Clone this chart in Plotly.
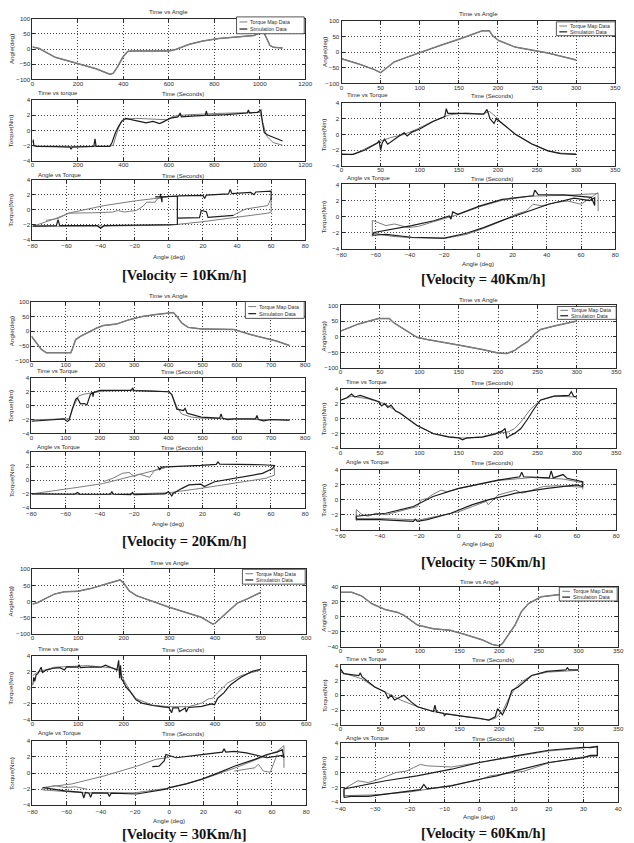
import plotly.graph_objects as go

W, H = 634, 843

# ======================= DATA =======================
# ---- 10 Km/h ----
t10_angle = [0, 30, 100, 200, 280, 340, 355, 375, 398, 420, 460, 600, 630, 690, 750, 820, 900, 975, 1015, 1030, 1045, 1060, 1100]
angle10 = [7, 2, -27, -47, -65, -83, -80, -58, -26, -7, -6, -6, -1, 16, 27, 35, 40, 45, 60, 35, 12, 6, 4]
t10_map = [0, 100, 200, 340, 355, 376, 391, 412, 455, 530, 600, 614, 671, 815, 973, 1002, 1016, 1030, 1059, 1100]
tq10_map = [-2.05, -2.1, -2.1, -2.1, -1.95, 0.1, 1.2, 1.5, 1.6, 1.5, 1.4, 1.85, 2.05, 2.25, 2.45, 2.4, 0.75, -0.75, -1.6, -1.95]
t10_sim = [0, 3, 6, 20, 100, 165, 170, 175, 270, 275, 280, 340, 350, 365, 380, 395, 410, 440, 470, 500, 530, 560, 580, 595, 605, 620, 640, 650, 655, 700, 760, 765, 770, 850, 900, 945, 950, 955, 990, 1005, 1012, 1020, 1035, 1060, 1080, 1100]
tq10_sim = [-1.6, -1.2, -2.0, -2.1, -2.15, -2.2, -2.5, -2.2, -2.1, -1.1, -2.1, -2.1, -1.6, -0.3, 0.6, 1.3, 1.6, 1.4, 1.1, 1.0, 1.2, 0.9, 1.2, 1.5, 1.6, 1.7, 1.8, 2.3, 1.8, 1.9, 2.0, 2.6, 2.0, 2.1, 2.2, 2.3, 2.7, 2.3, 2.4, 2.7, 1.0, -0.3, -0.6, -0.9, -1.2, -1.4]
map10_a = [5, 0, -4, -19, -38, -58, -67, -80, -40, 0, 19, 38, 58, 60, 60, 58, 50, 45, 38, None, -72, -65, -60, -59, -45, -33, -30, -26, -23, -19, -15, -13, -8, -7, -4]
map10_t = [1.8, 1.75, 1.6, 1.2, 0.55, -0.4, -1.2, -2.2, -2.15, -2.05, -1.6, -1.05, -0.45, -0.3, 1.5, 0.55, 0.3, 0.1, -0.7, None, -1.4, -1.15, -0.6, -0.45, -0.4, -0.3, -0.1, -0.3, -0.2, -0.1, 0.5, 1.0, 1.0, 1.4, 1.7]
sim10_a = [-80, -66, -65, -64, -42, -40, -38, -10, 0, 5, 5, 6, 20, 21, 22, 35, 36, 37, 48, 50, 51, 60, 60, None, 5, 18, 19, 22, 23, 38, None, -8, -5, -5, -4, -4, 5]
sim10_t = [-2.15, -2.1, -1.3, -2.1, -2.1, -2.45, -2.1, -2.05, -2.0, -1.95, 1.8, 1.85, 1.9, 1.5, 1.95, 2.1, 2.7, 2.15, 2.3, 2.0, 2.35, 2.45, 1.3, None, -1.1, -1.05, -0.1, -0.25, -1.0, -0.75, None, 1.7, 1.7, 2.1, 1.0, 1.7, 1.8]

# ---- 40 Km/h ----
t40_angle = [0, 21, 42, 50, 54, 67, 84, 101, 126, 151, 172, 180, 189, 193, 201, 222, 264, 300]
angle40 = [-21, -37, -56, -66, -58, -32, -16, 0, 21, 42, 60, 68, 68, 53, 37, 16, -3, -25]
t40_map = [0, 13, 25, 38, 50, 63, 80, 96, 117, 138, 159, 180, 189, 197, 205, 222, 243, 264, 280, 300]
tq40_map = [-2.5, -2.6, -2.1, -1.5, -0.85, -0.4, 0.0, 0.65, 1.7, 2.5, 2.75, 2.6, 2.95, 2.3, 1.5, 0.0, -1.25, -2.1, -2.4, -2.5]
t40_sim = [0, 15, 30, 40, 46, 48, 50, 52, 55, 59, 65, 71, 80, 84, 90, 100, 117, 126, 132, 134, 136, 150, 170, 182, 186, 190, 195, 198, 203, 215, 222, 243, 264, 280, 300]
tq40_sim = [-2.55, -2.55, -2.0, -1.5, -1.1, -0.8, -2.0, -1.1, -0.6, -1.25, -0.8, -0.4, 0.2, -0.2, 0.3, 0.7, 1.65, 2.1, 2.3, 3.3, 2.7, 2.7, 2.6, 2.6, 3.2, 2.0, 1.4, 2.0, 1.6, 0.6, 0.05, -1.2, -2.1, -2.45, -2.55]
map40_a = [-62, -62, -54, -49, -41, -35, -26, -12, 1, 14, 30, 50, 68, 70, 70, None, -62, -50, -39, -20, -7, 3, 14, 22, 28, 32, 37, 45, 52, 60, 66, 70]
map40_t = [-2.45, -0.45, -1.1, -0.9, -1.35, -1.2, -0.6, 0.25, 1.25, 2.05, 2.55, 2.65, 2.85, 2.9, 0.7, None, -2.0, -2.45, -2.6, -2.7, -2.2, -1.45, -0.5, 0.3, 0.7, 1.55, 1.35, 1.75, 1.95, 1.55, 2.4, 3.0]
sim40_a = [-62, -54, -39, -20, -7, 3, 14, 26, 41, 56, 65, 68, 68, 66, 50, 35, 33, 32, 14, 1, -12, -15, -16, -17, -26, -39, -50, -61, -62]
sim40_t = [-2.3, -2.2, -2.55, -2.65, -2.05, -1.35, -0.45, 0.4, 1.55, 2.3, 2.0, 2.35, 1.4, 2.4, 2.7, 2.75, 3.3, 2.6, 2.15, 1.35, 0.3, 0.6, -0.3, 0.1, -0.5, -1.1, -1.55, -1.95, -2.3]

# ---- 20 Km/h ----
t20_angle = [0, 14, 29, 43, 115, 119, 129, 143, 162, 191, 210, 248, 286, 325, 363, 401, 415, 425, 439, 458, 496, 592, 640, 716, 754]
angle20 = [-17, -39, -61, -72, -72, -61, -28, -17, -6, 11, 19, 24, 39, 50, 56, 61, 63, 50, 28, 13, 8, 6, -11, -33, -48]
t20_map = [0, 60, 110, 124, 138, 153, 181, 210, 305, 401, 410, 425, 439, 468, 496, 640, 754]
tq20_map = [-2.05, -2.0, -1.9, 0.0, 1.4, 1.65, 1.9, 2.1, 2.2, 2.0, 1.65, -0.2, -1.2, -1.65, -1.8, -2.0, -2.1]
t20_sim = [0, 50, 95, 105, 110, 119, 129, 134, 143, 155, 162, 172, 178, 180, 182, 200, 250, 290, 296, 300, 350, 401, 410, 415, 425, 435, 444, 449, 455, 470, 496, 550, 554, 558, 573, 592, 655, 659, 663, 678, 700, 754]
tq20_sim = [-2.25, -2.1, -1.9, -2.3, -2.1, -0.5, 0.9, 1.1, 0.25, 0.3, 0.1, 1.6, 1.9, 1.3, 1.9, 2.2, 2.15, 2.2, 2.5, 2.15, 2.1, 2.0, 1.6, 0.9, -0.5, -0.6, -0.7, -0.4, -1.1, -1.3, -1.65, -1.8, -1.2, -1.8, -2.0, -1.9, -1.9, -1.4, -2.0, -2.2, -2.0, -2.1]
map20_a = [-2, -19, -38, -57, -80, -40, 0, 19, 38, 57, 62, 62, None, -38, -32, -27, -23, -20, -17, -11, -8, -4]
map20_t = [1.75, 0.7, -0.5, -1.2, -2.0, -2.1, -1.85, -1.2, -0.5, 0.25, 0.7, 1.8, None, -0.25, 0.3, 0.95, 1.1, 0.5, 0.85, 0.4, 1.4, 1.75]
sim20_a = [-80, -55, -53, -52, -34, -33, -32, -22, -21, -20, -2, 0, 2, 3, 8, 12, 19, 21, 27, 38, 50, 55, 61, 62, 55, 38, 30, 29, 28, 19, 5, 1, -4, -5, -6]
sim20_t = [-2.0, -2.05, -1.8, -2.05, -2.05, -1.7, -2.05, -2.1, -1.8, -2.1, -2.0, -1.65, -2.3, -1.9, -1.2, -0.7, -0.6, -0.95, -0.25, 0.25, 0.7, 0.95, 1.65, 2.1, 2.2, 2.25, 2.3, 2.6, 2.25, 2.1, 2.0, 1.9, 1.85, 1.5, 1.9]

# ---- 50 Km/h ----
t50_angle = [0, 23, 48, 62, 68, 81, 97, 110, 138, 151, 180, 200, 211, 221, 229, 238, 246, 254, 271, 291, 300]
angle50 = [18, 41, 58, 58, 44, 23, -2, -9, -20, -27, -41, -52, -54, -44, -29, -15, 8, 23, 34, 46, 50]
t50_map = [0, 14, 35, 56, 76, 97, 118, 138, 159, 180, 196, 213, 221, 229, 242, 254, 271, 300]
tq50_map = [2.45, 3.0, 2.65, 2.0, 0.65, -0.9, -2.0, -2.45, -2.65, -2.45, -2.0, -1.8, -1.35, -0.45, 1.35, 2.45, 3.0, 2.9]
t50_sim = [0, 8, 14, 18, 25, 40, 48, 52, 56, 60, 64, 70, 76, 97, 118, 138, 150, 155, 160, 180, 196, 205, 209, 211, 215, 221, 229, 238, 246, 254, 271, 290, 293, 296, 300]
tq50_sim = [2.45, 2.8, 3.3, 2.9, 3.1, 2.6, 2.3, 1.7, 2.0, 1.5, 1.8, 1.0, 0.7, -0.95, -2.05, -2.5, -2.6, -2.85, -2.6, -2.5, -2.1, -1.7, -1.35, -2.65, -2.3, -2.0, -1.35, 0.0, 1.35, 2.5, 3.0, 3.1, 3.6, 3.0, 2.9]
map50_a = [-52, -52, -49, -46, -42, -37, -34, -21, -19, -16, -13, -9, -6, 0, 20, 37, 53, 63, 63, None, -52, -40, -20, 0, 7, 14, 15, 20, 29, 32, 35, 40, 43, 50, 63]
map50_t = [-2.8, -1.3, -2.0, -2.2, -1.8, -2.0, -1.8, -0.9, 0.0, 0.2, 0.75, 1.3, 1.1, 1.5, 2.6, 3.0, 2.8, 2.3, 1.4, None, -2.5, -2.5, -2.7, -1.6, -0.9, -0.2, -0.65, 0.65, 1.3, 0.9, 1.1, 1.55, 1.8, 1.9, 1.7]
sim50_a = [-52, -40, -23, -22, -21, -16, -4, 7, 15, 29, 45, 60, 63, 63, 55, 53, 48, 47, 46, 37, 33, 32, 31, 20, 0, -13, -23, -37, -52, -52]
sim50_t = [-2.65, -2.65, -2.9, -2.6, -2.9, -2.65, -1.8, -0.65, 0.0, 0.9, 1.55, 2.0, 1.8, 2.45, 2.9, 3.4, 2.95, 3.9, 2.95, 3.1, 3.1, 3.7, 3.1, 2.65, 1.55, 0.45, -0.9, -1.8, -2.2, -2.65]

# ---- 30 Km/h ----
t30_angle = [0, 12, 27, 48, 70, 100, 127, 156, 177, 192, 200, 212, 228, 300, 370, 395, 400, 407, 428, 449, 471, 500]
angle30 = [-8, -3, 8, 23, 30, 32, 40, 51, 59, 67, 57, 33, 18, -18, -49, -70, -68, -59, -33, -5, 8, 28]
t30_map = [0, 12, 48, 120, 177, 191, 199, 213, 227, 263, 299, 342, 371, 385, 395, 406, 428, 457, 500]
tq30_map = [1.5, 1.95, 2.55, 2.75, 2.45, 2.15, 1.1, -0.3, -1.35, -2.15, -2.35, -2.35, -1.9, -1.4, -1.3, -0.6, 0.6, 1.5, 2.2]
t30_sim = [0, 3, 5, 8, 12, 19, 22, 30, 48, 60, 70, 75, 100, 102, 105, 130, 150, 160, 175, 185, 189, 191, 193, 195, 199, 205, 213, 220, 227, 240, 263, 290, 299, 305, 308, 320, 322, 335, 337, 342, 371, 392, 399, 406, 420, 428, 435, 457, 480, 500]
tq30_sim = [0.3, 1.3, 0.8, 1.6, 1.75, 2.55, 1.9, 2.2, 2.45, 2.5, 2.2, 2.6, 2.55, 2.85, 2.5, 2.6, 2.55, 2.8, 2.45, 2.2, 3.4, 1.2, 2.8, 1.1, 0.8, 0.1, -0.4, -1.0, -1.5, -1.9, -2.2, -2.4, -2.45, -3.1, -2.5, -2.5, -2.95, -2.5, -3.0, -2.45, -2.3, -2.0, -2.1, -1.3, -0.6, 0.0, 0.4, 1.3, 2.0, 2.3]
map30_a = [0, -8, -19, -38, -57, -74, -74, -50, -20, 0, 19, 38, 50, 63, 67, 67, None, 38, 50, 52, 55, 59, 61, 63, None, -72, -67, -61, -55, -48]
map30_t = [1.95, 1.7, 0.85, -0.35, -1.35, -1.8, -2.1, -2.45, -2.45, -1.85, -0.8, 0.6, 1.6, 2.7, 3.4, 0.65, None, 0.25, 0.65, 1.1, 0.25, 0.1, 1.1, 2.3, None, -1.8, -1.55, -1.8, -1.7, -2.0]
sim30_a = [-74, -61, -51, -50, -49, -47, -46, -45, -36, -35, -34, -19, -2, 0, 10, 19, 29, 38, 50, 57, 63, 66, 67, 66, 57, 45, 38, 33, 32, 31, 19, 4, -2, -3, -4, -6, -10]
sim30_t = [-1.8, -2.2, -2.4, -3.1, -2.4, -2.5, -3.0, -2.45, -2.5, -2.9, -2.5, -2.6, -2.0, -1.8, -1.35, -0.75, 0.05, 0.85, 1.7, 2.3, 2.6, 2.9, 1.9, 2.2, 1.9, 2.5, 2.7, 2.6, 3.0, 2.6, 2.3, 1.9, 2.3, 1.5, 1.3, 0.85, 0.8]

# ---- 60 Km/h ----
t60_angle = [0, 14, 27, 39, 56, 72, 80, 97, 117, 138, 158, 179, 191, 200, 204, 212, 220, 228, 237, 253, 274, 300]
angle60 = [33, 33, 28, 18, 10, 6, 2, -11, -16, -18, -24, -31, -37, -39, -36, -24, -11, 7, 18, 27, 30, 33]
t60_map = [0, 14, 27, 39, 56, 76, 97, 117, 158, 187, 195, 204, 212, 220, 228, 241, 261, 300]
tq60_map = [3.1, 2.65, 2.2, 1.35, 0.45, -0.65, -1.55, -2.2, -2.9, -3.35, -3.1, -2.2, -0.45, 0.9, 1.8, 2.65, 3.1, 3.35]
t60_sim = [0, 4, 23, 25, 27, 35, 43, 56, 60, 64, 68, 80, 89, 97, 117, 119, 121, 130, 131, 133, 150, 160, 175, 187, 195, 198, 204, 210, 216, 224, 241, 260, 284, 286, 288, 300]
tq60_sim = [3.55, 2.9, 2.65, 3.0, 2.5, 1.8, 1.1, 0.45, -0.45, 0.0, -0.65, 0.0, -0.9, -1.55, -2.2, -1.35, -2.25, -2.45, -2.75, -2.5, -2.8, -2.9, -3.1, -3.35, -2.9, -1.8, -2.65, -1.35, 0.65, 1.1, 2.65, 3.2, 3.4, 3.7, 3.4, 3.4]
map60_a = [-39, -35, -32, -29, -24, -21, -19, -17, -15, -8, 0, 10, 20, 30, 34, 34, 30, 20, 15, 13, 10, 3, 0, -10, -20, -30, -39, -39]
map60_t = [-2.2, -1.1, -1.35, -0.9, 0.0, 0.2, 0.65, 1.1, 0.9, 0.75, 1.35, 2.1, 2.9, 3.3, 3.55, 2.2, 2.1, 1.3, 0.45, 0.2, 0.0, -0.45, -1.0, -1.9, -2.6, -3.0, -3.1, -2.2]
sim60_a = [-39, -37, -32, -27, -20, -17, -16, -15, -8, 0, 5, 10, 20, 30, 32, 34, 34, 32, 30, 20, 10, 0, -8, -18, -27, -39, -39]
sim60_t = [-3.35, -3.2, -3.2, -2.9, -2.45, -2.3, -1.6, -2.2, -1.8, -0.9, -0.45, 0.2, 1.35, 2.0, 2.3, 2.3, 3.5, 3.35, 3.4, 3.0, 2.2, 1.35, 0.45, -0.45, -1.1, -2.2, -3.35]

series_names = ["Torque Map Data", "Simulation Data"]

# ======================= LAYOUT SPEC =======================
blocks = [
    dict(vel="10", xl=(28, 306), p=[(15, 76), (97, 158), (177, 238)], tr=[0, 1200], td=200, ar=[-100, 100], ad=50,
         xr3=[-80, 80], xd3=20, title_y=8, g1=88, g2=171, xl3=255, vy=273, leg=(236, 13, 305, 30), t1="Time vs torque",
         ang=(t10_angle, angle10), tmap=(t10_map, tq10_map), tsim=(t10_sim, tq10_sim), amap=(map10_a, map10_t), asim=(sim10_a, sim10_t)),
    dict(vel="40", xl=(343, 622), p=[(17, 80), (100, 163), (182, 247)], tr=[0, 350], td=50, ar=[-100, 100], ad=50,
         xr3=[-80, 80], xd3=20, title_y=10, g1=90, g2=174, xl3=262, vy=277, leg=(562, 18, 622, 32), t1="Time vs Torque",
         ang=(t40_angle, angle40), tmap=(t40_map, tq40_map), tsim=(t40_sim, tq40_sim), amap=(map40_a, map40_t), asim=(sim40_a, sim40_t)),
    dict(vel="20", xl=(27, 306), p=[(300, 360), (377, 433), (452, 508)], tr=[0, 800], td=100, ar=[-100, 100], ad=50,
         xr3=[-80, 80], xd3=20, title_y=294, g1=369, g2=445, xl3=524, vy=542, leg=(245, 300, 305, 317), t1="Time vs Torque",
         ang=(t20_angle, angle20), tmap=(t20_map, tq20_map), tsim=(t20_sim, tq20_sim), amap=(map20_a, map20_t), asim=(sim20_a, sim20_t)),
    dict(vel="50", xl=(342, 623), p=[(304, 367), (388, 448), (470, 530)], tr=[0, 350], td=50, ar=[-100, 100], ad=50,
         xr3=[-60, 80], xd3=20, title_y=298, g1=380, g2=460, xl3=544, vy=563, leg=(563, 305, 623, 318), t1="Time vs Torque",
         ang=(t50_angle, angle50), tmap=(t50_map, tq50_map), tsim=(t50_sim, tq50_sim), amap=(map50_a, map50_t), asim=(sim50_a, sim50_t)),
    dict(vel="30", xl=(28, 307), p=[(570, 635), (657, 722), (743, 808)], tr=[0, 600], td=100, ar=[-100, 100], ad=50,
         xr3=[-80, 80], xd3=20, title_y=563, g1=649, g2=734, xl3=823, vy=837, leg=(242, 570, 306, 585), t1="Time vs Torque",
         ang=(t30_angle, angle30), tmap=(t30_map, tq30_map), tsim=(t30_sim, tq30_sim), amap=(map30_a, map30_t), asim=(sim30_a, sim30_t)),
    dict(vel="60", xl=(342, 625), p=[(588, 648), (667, 727), (745, 805)], tr=[0, 350], td=50, ar=[-40, 40], ad=20,
         xr3=[-40, 40], xd3=10, title_y=582, g1=659, g2=739, xl3=819, vy=836, leg=(565, 588, 624, 602), t1="Time vs Torque",
         ang=(t60_angle, angle60), tmap=(t60_map, tq60_map), tsim=(t60_sim, tq60_sim), amap=(map60_a, map60_t), asim=(sim60_a, sim60_t)),
]

TXT = "#2e2e2e"
FONT = "Liberation Sans, Arial, sans-serif"
MAP_C, SIM_C = "#7c7c7c", "#1c1c1c"

AX = dict(showline=True, linecolor="#2a2a2a", linewidth=1, mirror="ticks", ticks="inside", ticklen=3,
          tickcolor="#2a2a2a", showgrid=True, gridcolor="#444444", griddash="1px,2px", gridwidth=0.8,
          zeroline=False, tickfont=dict(family=FONT, size=6.2, color=TXT), fixedrange=True)

fig = go.Figure()
annotations, shapes, lay = [], [], {}


def py(y):
    return 1 - y / H


def px(x):
    return x / W


def ann(text, x, y, size=6.2, xa="center", ya="middle", angle=0, family=FONT, color=TXT):
    annotations.append(dict(text=text, x=px(x), y=py(y), xref="paper", yref="paper", showarrow=False,
                            xanchor=xa, yanchor=ya, textangle=angle, borderpad=0,
                            font=dict(family=family, size=size, color=color)))


k = 0
for b in blocks:
    x0, x1 = b["xl"]
    xc = (x0 + x1) / 2
    left = x0 < 200
    ylab_x = 6 if left else 325
    data = [(b["ang"], b["ang"]), (b["tmap"], b["tsim"]), (b["amap"], b["asim"])]
    for j in range(3):
        k += 1
        y0, y1 = b["p"][j]
        xn = "xaxis" if k == 1 else f"xaxis{k}"
        yn = "yaxis" if k == 1 else f"yaxis{k}"
        xr = "x" if k == 1 else f"x{k}"
        yr = "y" if k == 1 else f"y{k}"
        if j < 2:
            xrange, xdt = b["tr"], b["td"]
        else:
            xrange, xdt = b["xr3"], b["xd3"]
        yrange, ydt = (b["ar"], b["ad"]) if j == 0 else ([-4, 4], 2)
        lay[xn] = dict(AX, domain=[px(x0), px(x1)], anchor=yr, range=xrange, dtick=xdt, tick0=xrange[0],
                       ticklabelstandoff=(-2 if j < 2 else 0))
        lay[yn] = dict(AX, domain=[py(y1), py(y0)], anchor=xr, range=yrange, dtick=ydt, tick0=yrange[0])
        mp, sm = data[j]
        if j == 0:
            fig.add_trace(go.Scatter(x=sm[0], y=sm[1], mode="lines", name=series_names[1], xaxis=xr, yaxis=yr,
                                     line=dict(color="#444", width=1.0), showlegend=False))
            fig.add_trace(go.Scatter(x=mp[0], y=mp[1], mode="lines", name=series_names[0], xaxis=xr, yaxis=yr,
                                     line=dict(color=MAP_C, width=1.5), showlegend=False))
        else:
            fig.add_trace(go.Scatter(x=mp[0], y=mp[1], mode="lines", name=series_names[0], xaxis=xr, yaxis=yr,
                                     line=dict(color=MAP_C, width=1.0), connectgaps=False, showlegend=False))
            fig.add_trace(go.Scatter(x=sm[0], y=sm[1], mode="lines", name=series_names[1], xaxis=xr, yaxis=yr,
                                     line=dict(color=SIM_C, width=1.2), connectgaps=False, showlegend=False))
        ylabel = "Angle(deg)" if j == 0 else "Torque(Nm)"
        ann(ylabel, ylab_x, (y0 + y1) / 2, size=6.2, angle=-90)

    # titles / labels
    ann("Time vs Angle", xc, b["title_y"], size=6.2)
    ann(b["t1"], x0 + 5, b["g1"] + 1.5, size=6, xa="left")
    ann("Time (Seconds)", xc + 14, b["g1"] + 2.5, size=6)
    ann("Angle vs Torque", x0 + 5, b["g2"] + 1.5, size=6, xa="left")
    ann("Time (Seconds)", xc + 14, b["g2"] + 2.5, size=6)
    ann("Angle (deg)", xc, b["xl3"], size=6.2)
    ann(f"<b>[Velocity = {b['vel']}Km/h]</b>", (183 if left else 488), b["vy"], size=14.5,
        family="Liberation Serif, Times New Roman, serif", color="#111")

    # legend box
    lx0, ly0, lx1, ly1 = b["leg"]
    shapes.append(dict(type="rect", xref="paper", yref="paper", x0=px(lx0), x1=px(lx1), y0=py(ly1), y1=py(ly0),
                       line=dict(color="#2a2a2a", width=0.8), fillcolor="white", layer="above"))
    hgt = ly1 - ly0
    for r, (nm, col, wd) in enumerate([(series_names[0], MAP_C, 1.0), (series_names[1], SIM_C, 1.2)]):
        yy = ly0 + hgt * (0.3 if r == 0 else 0.72)
        shapes.append(dict(type="line", xref="paper", yref="paper", x0=px(lx0 + 3), x1=px(lx0 + 11),
                           y0=py(yy), y1=py(yy), line=dict(color=col, width=wd), layer="above"))
        ann(nm, lx0 + 13, yy, size=5.2, xa="left")

fig.update_layout(width=W, height=H, margin=dict(l=0, r=0, t=0, b=0), paper_bgcolor="white",
                  plot_bgcolor="white", showlegend=False, annotations=annotations, shapes=shapes, **lay)

fig.write_html("out.html")
